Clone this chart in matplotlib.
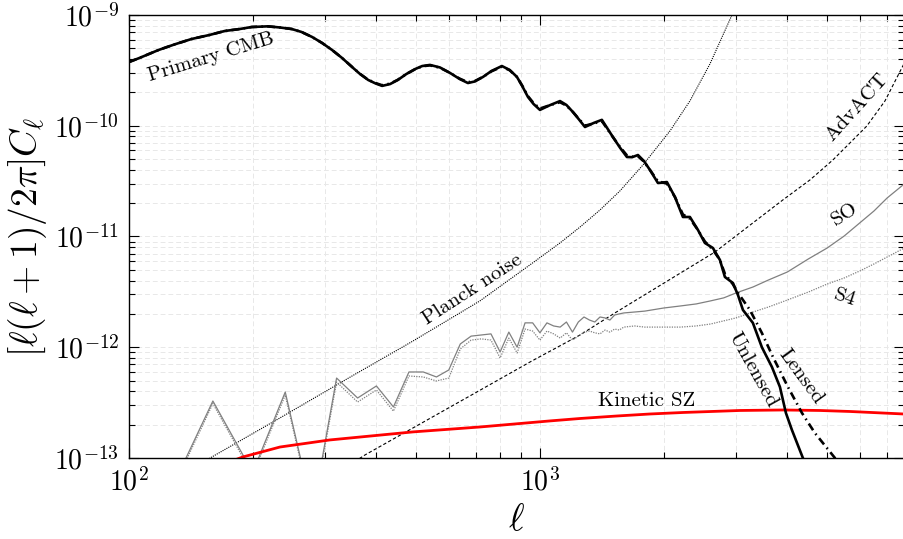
import numpy as np
import matplotlib
matplotlib.use("Agg")
import matplotlib.pyplot as plt
from matplotlib.ticker import FixedLocator, FuncFormatter, NullFormatter

plt.rcParams["font.family"] = "serif"
plt.rcParams["font.serif"] = ["cmr10", "DejaVu Serif"]
plt.rcParams["mathtext.fontset"] = "cm"
plt.rcParams["axes.formatter.use_mathtext"] = True

# ---- primary CMB temperature spectrum, l(l+1)C_l/2pi (dimensionless) ----
ell_unlensed = [100, 106, 118, 129, 142, 157, 171, 186, 199, 218, 233, 249, 263,
                279, 295, 312, 330, 349, 365, 382, 398, 413, 432, 451, 473, 497,
                517, 540, 571, 604, 638, 668, 694, 727, 762, 808, 844, 879, 905,
                935, 965, 1000, 1056, 1119, 1160, 1203, 1242, 1287, 1352, 1415,
                1505, 1568, 1628, 1676, 1732, 1791, 1852, 1937, 2037, 2131, 2228,
                2317, 2424, 2520, 2636, 2742, 2819, 2949, 3033, 3119, 3297, 3468,
                3669, 3837, 3968, 4104, 4364, 4450]
cl_unlensed = [3.76e-10, 4.09e-10, 4.83e-10, 5.42e-10, 6.07e-10, 6.6e-10, 7.17e-10,
               7.47e-10, 7.79e-10, 7.9e-10, 7.71e-10, 7.47e-10, 7.02e-10, 6.33e-10,
               5.59e-10, 4.83e-10, 4.09e-10, 3.39e-10, 2.93e-10, 2.59e-10, 2.41e-10,
               2.29e-10, 2.38e-10, 2.59e-10, 2.93e-10, 3.25e-10, 3.46e-10, 3.54e-10,
               3.36e-10, 3.0e-10, 2.64e-10, 2.43e-10, 2.51e-10, 2.76e-10, 3.12e-10,
               3.46e-10, 3.19e-10, 2.76e-10, 2.29e-10, 1.82e-10, 1.57e-10, 1.39e-10,
               1.53e-10, 1.67e-10, 1.54e-10, 1.33e-10, 1.15e-10, 9.74e-11, 1.06e-10,
               1.13e-10, 7.91e-11, 6.3e-11, 5.22e-11, 5.2e-11, 5.44e-11, 4.8e-11,
               3.99e-11, 3.04e-11, 3.10e-11, 2.27e-11, 1.50e-11, 1.50e-11, 1.145e-11,
               8.74e-12, 7.87e-12, 6.13e-12, 4.31e-12, 3.80e-12, 2.96e-12, 2.17e-12,
               1.66e-12, 1.0e-12, 6.63e-13, 4.38e-13, 2.55e-13, 1.79e-13, 1.0e-13,
               8.5e-14]

ell_lensed = [100, 106, 118, 129, 142, 157, 171, 186, 199, 218, 233, 249, 263,
              279, 295, 312, 330, 349, 365, 382, 398, 413, 432, 451, 473, 497,
              517, 540, 571, 604, 638, 668, 694, 727, 762, 808, 844, 879, 905,
              935, 965, 1000, 1056, 1119, 1160, 1203, 1242, 1287, 1352, 1415,
              1505, 1568, 1628, 1676, 1732, 1791, 1852, 1937, 2037, 2131, 2228,
              2317, 2424, 2520, 2636, 2742, 2819, 2949, 3033, 3243, 3468, 3690,
              4013, 4341, 4668, 5222, 5400]
cl_lensed = [3.76e-10, 4.09e-10, 4.83e-10, 5.42e-10, 6.07e-10, 6.6e-10, 7.17e-10,
             7.47e-10, 7.79e-10, 7.88e-10, 7.71e-10, 7.47e-10, 7.02e-10, 6.33e-10,
             5.59e-10, 4.83e-10, 4.09e-10, 3.40e-10, 2.94e-10, 2.60e-10, 2.43e-10,
             2.32e-10, 2.40e-10, 2.60e-10, 2.93e-10, 3.24e-10, 3.44e-10, 3.51e-10,
             3.34e-10, 3.0e-10, 2.66e-10, 2.47e-10, 2.53e-10, 2.76e-10, 3.10e-10,
             3.41e-10, 3.17e-10, 2.76e-10, 2.31e-10, 1.85e-10, 1.60e-10, 1.43e-10,
             1.53e-10, 1.63e-10, 1.52e-10, 1.33e-10, 1.16e-10, 1.0e-10, 1.05e-10,
             1.10e-10, 7.9e-11, 6.4e-11, 5.4e-11, 5.25e-11, 5.3e-11, 4.75e-11,
             3.99e-11, 3.15e-11, 3.0e-11, 2.27e-11, 1.58e-11, 1.45e-11, 1.145e-11,
             9.0e-12, 7.6e-12, 6.13e-12, 4.6e-12, 3.7e-12, 3.1e-12, 2.17e-12,
             1.345e-12, 8.17e-13, 4.38e-13, 2.55e-13, 1.68e-13, 1.0e-13, 8.5e-14]

# ---- instrument noise curves ----
ell_planck = [150, 159, 233, 339, 491, 714, 930, 1119, 1252, 1400, 1565, 1781,
              2072, 2317, 2592, 2933, 3154]
nl_planck = [9.0e-14, 1.02e-13, 2.30e-13, 5.17e-13, 1.138e-12, 2.616e-12, 5.30e-12,
             8.74e-12, 1.218e-11, 1.735e-11, 2.575e-11, 4.42e-11, 8.97e-11,
             1.673e-10, 3.61e-10, 1.0e-9, 1.87e-9]

ell_advact = [345, 375, 675, 946, 1252, 1522, 2666, 3902, 4540, 5163, 5680, 6245,
              6911, 7683]
nl_advact = [8.7e-14, 1.064e-13, 3.63e-13, 7.36e-13, 1.29e-12, 2.04e-12, 7.24e-12,
             2.14e-11, 3.24e-11, 4.91e-11, 6.99e-11, 9.95e-11, 1.673e-10, 3.61e-10]

ell_bins = [120, 160, 200, 240, 280, 320, 360, 400, 440, 480, 520, 560, 600, 640,
            680, 720, 760, 800, 840, 880, 920, 960, 1000, 1040, 1080, 1120, 1160,
            1200, 1240, 1280, 1320, 1360, 1400, 1440, 1480, 1520, 1560, 1600, 1700,
            1800, 2000, 2200, 2400, 2600, 2800, 3000, 3300, 3600, 4000, 4500, 5000,
            5500, 6000, 6500, 7000, 7700]
nl_so = [3.4e-14, 3.27e-13, 7.4e-14, 3.94e-13, 3.3e-14, 5.27e-13, 3.48e-13, 4.47e-13,
         2.89e-13, 5.98e-13, 5.98e-13, 5.39e-13, 6.23e-13, 1.07e-12, 1.26e-12,
         1.29e-12, 1.32e-12, 9.06e-13, 1.37e-12, 1.0e-12, 1.66e-12, 1.66e-12,
         1.35e-12, 1.66e-12, 1.556e-12, 1.52e-12, 1.69e-12, 1.37e-12, 1.69e-12,
         1.875e-12, 1.76e-12, 1.69e-12, 1.875e-12, 1.84e-12, 1.76e-12, 1.955e-12,
         2.0e-12, 2.04e-12, 2.08e-12, 2.12e-12, 2.26e-12, 2.36e-12, 2.46e-12,
         2.62e-12, 2.79e-12, 3.09e-12, 3.50e-12, 4.05e-12, 4.78e-12, 6.27e-12,
         7.87e-12, 1.01e-11, 1.325e-11, 1.70e-11, 2.23e-11, 2.98e-11]
nl_s4 = [3.2e-14, 3.1e-13, 7.0e-14, 3.7e-13, 3.1e-14, 4.85e-13, 3.2e-13, 4.11e-13,
         2.65e-13, 5.5e-13, 5.39e-13, 4.96e-13, 5.27e-13, 9.64e-13, 1.16e-12,
         1.19e-12, 1.16e-12, 8.0e-13, 1.21e-12, 8.87e-13, 1.46e-12, 1.40e-12,
         1.16e-12, 1.40e-12, 1.32e-12, 1.21e-12, 1.35e-12, 1.16e-12, 1.26e-12,
         1.37e-12, 1.40e-12, 1.35e-12, 1.32e-12, 1.43e-12, 1.37e-12, 1.46e-12,
         1.43e-12, 1.52e-12, 1.556e-12, 1.52e-12, 1.52e-12, 1.52e-12, 1.556e-12,
         1.62e-12, 1.73e-12, 1.84e-12, 2.08e-12, 2.31e-12, 2.67e-12, 3.15e-12,
         3.72e-12, 4.22e-12, 4.88e-12, 5.65e-12, 6.53e-12, 7.87e-12]

# ---- kinetic Sunyaev-Zel'dovich ----
ell_ksz = [170, 189, 233, 308, 491, 714, 1056, 1252, 1538, 1852, 2228, 3066, 3902,
           4800, 5680, 7683]
cl_ksz = [8.8e-14, 1.02e-13, 1.256e-13, 1.455e-13, 1.72e-13, 1.905e-13, 2.16e-13,
          2.273e-13, 2.394e-13, 2.496e-13, 2.575e-13, 2.685e-13, 2.713e-13, 2.685e-13,
          2.63e-13, 2.496e-13]

# ---- axis ticks ----
xticks_major = [1e2, 1e3]
yticks_major = [1e-13, 1e-12, 1e-11, 1e-10, 1e-9]

fig = plt.figure(figsize=(9.04, 5.39), dpi=100)
ax = fig.add_axes([0.1427, 0.1503, 0.8573, 0.8219])

ax.plot(ell_planck, nl_planck, color="black", lw=0.8, ls=(0, (1, 1)))
ax.plot(ell_advact, nl_advact, color="black", lw=0.8, ls=(0, (3, 2)))
ax.plot(ell_bins, nl_so, color="#808080", lw=0.9, ls="-")
ax.plot(ell_bins, nl_s4, color="#808080", lw=0.9, ls=(0, (1, 1)))
ax.plot(ell_ksz, cl_ksz, color="red", lw=2.0)
ax.plot(ell_unlensed, cl_unlensed, color="black", lw=1.9, ls="-")
ax.plot(ell_lensed, cl_lensed, color="black", lw=1.9, ls=(0, (3, 1.6, 0.6, 1.6)))

ax.set_xscale("log")
ax.set_yscale("log")
ax.set_xlim(100, 7690)
ax.set_ylim(1e-13, 1e-9)

def pow10(v, pos):
    e = int(round(np.log10(v)))
    return r"$10^{%d}$" % e

x_minor = [m * d for d in (1e2, 1e3) for m in range(2, 10) if m * d < 7690]
y_minor = [m * d for d in (1e-13, 1e-12, 1e-11, 1e-10) for m in range(2, 10)]
ax.xaxis.set_major_locator(FixedLocator(xticks_major))
ax.yaxis.set_major_locator(FixedLocator(yticks_major))
ax.xaxis.set_minor_locator(FixedLocator(x_minor))
ax.yaxis.set_minor_locator(FixedLocator(y_minor))
for axis in (ax.xaxis, ax.yaxis):
    axis.set_major_formatter(FuncFormatter(pow10))
    axis.set_minor_formatter(NullFormatter())

ax.tick_params(which="both", direction="in", top=True, right=True, width=0.8)
ax.tick_params(which="major", length=7, labelsize=20, pad=7)
ax.tick_params(which="minor", length=4.5)
ax.grid(which="both", color="#e8e8e8", lw=0.7, ls=(0, (5, 3)))
ax.set_axisbelow(True)
for s in ax.spines.values():
    s.set_linewidth(1.0)

ax.set_xlabel(r"$\ell$", fontsize=27, labelpad=5)
ax.set_ylabel(r"$[\ell(\ell+1)/2\pi]C_\ell$", fontsize=27, labelpad=4)

txt = dict(transform=ax.transAxes, ha="center", va="center",
           rotation_mode="anchor", fontsize=15)
ax.text(0.106, 0.905, "Primary CMB", rotation=17, **txt)
ax.text(0.443, 0.379, "Planck noise", rotation=33, **txt)
ax.text(0.939, 0.792, "AdvACT", rotation=48, **txt)
ax.text(0.924, 0.551, "SO", rotation=33, **txt)
ax.text(0.924, 0.361, "S4", rotation=-18, **txt)
ax.text(0.805, 0.199, "Unlensed", rotation=-61, **txt)
ax.text(0.867, 0.183, "Lensed", rotation=-54, **txt)
ax.text(0.668, 0.129, "Kinetic SZ", rotation=0, **txt)

fig.savefig("out.png", dpi=100)
